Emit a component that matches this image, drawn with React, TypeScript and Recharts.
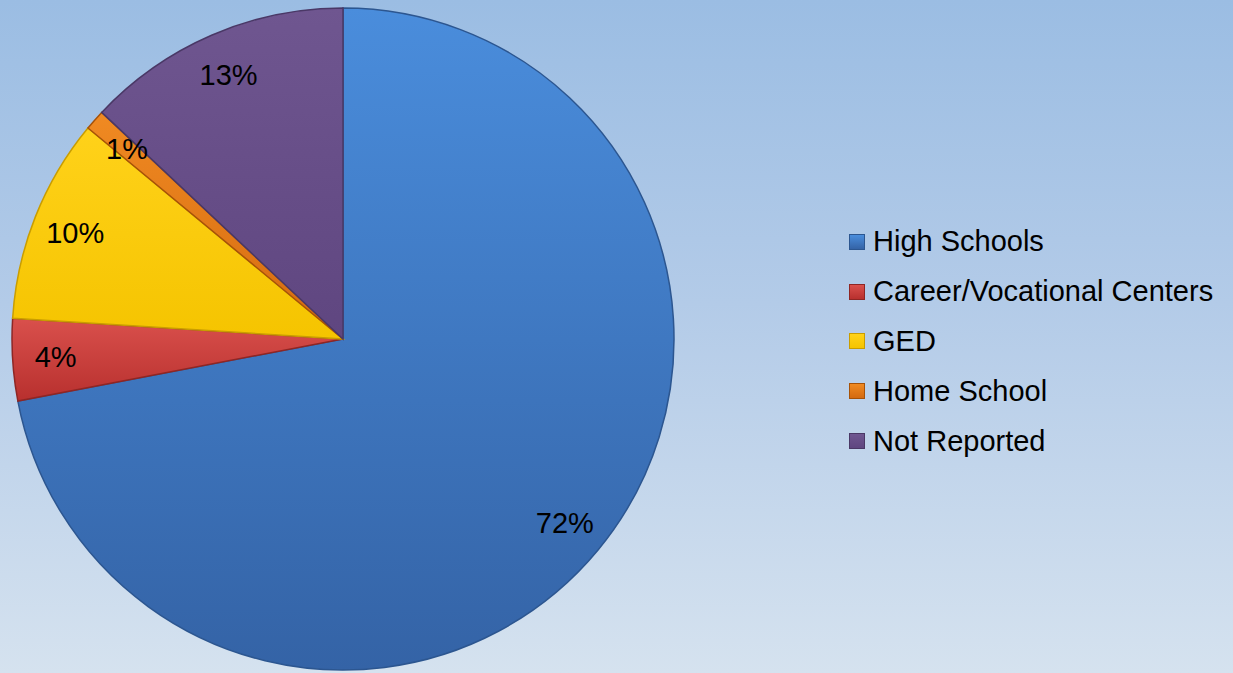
import React from "react";
import { PieChart, Pie, Cell, Legend } from "recharts";

const categories = ["High Schools", "Career/Vocational Centers", "GED", "Home School", "Not Reported"];
const shares = [72, 4, 10, 1, 13];

const TOP_COLORS = ["#4a8ddc", "#d9504c", "#ffd21a", "#f08a22", "#6f5690"];
const BOTTOM_COLORS = ["#3463a6", "#b8302e", "#f5c400", "#d46a10", "#5f4680"];
const EDGE_COLORS = ["#2c5690", "#8f2624", "#c99d00", "#a65208", "#4a3866"];

const chartData = categories.map((name, i) => ({ name, value: shares[i] }));

const RADIAN = Math.PI / 180;

const renderLabel = (props: any) => {
  const { cx, cy, midAngle, outerRadius, value } = props;
  const r = outerRadius * 0.87;
  const x = cx + r * Math.cos(-midAngle * RADIAN);
  const y = cy + r * Math.sin(-midAngle * RADIAN);
  return (
    <text
      x={x}
      y={y}
      fill="#000"
      textAnchor="middle"
      dominantBaseline="central"
      fontSize={29}
      fontFamily="'Liberation Sans', Arial, sans-serif"
    >
      {`${value}%`}
    </text>
  );
};

const renderLegend = () => (
  <div style={{ fontFamily: "'Liberation Sans', Arial, sans-serif" }}>
    {categories.map((name, i) => (
      <div key={name} style={{ display: "flex", alignItems: "center", height: 49.8 }}>
        <span
          style={{
            display: "inline-block",
            width: 14,
            height: 14,
            marginRight: 8,
            background: `linear-gradient(${TOP_COLORS[i]}, ${BOTTOM_COLORS[i]})`,
            border: `1px solid ${EDGE_COLORS[i]}`,
          }}
        />
        <span style={{ fontSize: 29, color: "#000" }}>{name}</span>
      </div>
    ))}
  </div>
);

export default function App() {
  return (
    <div
      style={{
        position: "absolute",
        left: 0,
        top: 0,
        width: 1233,
        height: 673,
        background: "linear-gradient(to bottom, #9bbde3 0%, #b3cbe8 45%, #d5e2ef 100%)",
        overflow: "hidden",
      }}
    >
      <PieChart width={1233} height={673} margin={{ top: 0, right: 0, bottom: 0, left: 0 }}>
        <defs>
          {TOP_COLORS.map((c, i) => (
            <linearGradient key={i} id={`slice-${i}`} x1="0" y1="0" x2="0" y2="1">
              <stop offset="0%" stopColor={c} />
              <stop offset="100%" stopColor={BOTTOM_COLORS[i]} />
            </linearGradient>
          ))}
        </defs>
        <Pie
          data={chartData}
          dataKey="value"
          nameKey="name"
          cx={343}
          cy={339}
          outerRadius={331}
          startAngle={90}
          endAngle={-270}
          label={renderLabel}
          labelLine={false}
          isAnimationActive={false}
        >
          {chartData.map((_, i) => (
            <Cell key={`cell-${i}`} fill={`url(#slice-${i})`} stroke={EDGE_COLORS[i]} strokeWidth={1.5} />
          ))}
        </Pie>
        <Legend
          content={renderLegend}
          wrapperStyle={{ left: 849, top: 217, width: 384, bottom: "auto", right: "auto" }}
        />
      </PieChart>
    </div>
  );
}
